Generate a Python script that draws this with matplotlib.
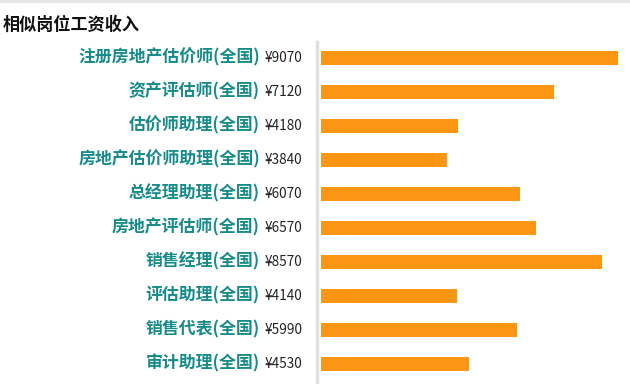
import matplotlib.pyplot as plt
from matplotlib.transforms import blended_transform_factory
from matplotlib.patches import Rectangle

plt.rcParams['font.family'] = ['Noto Sans CJK SC', 'DejaVu Sans']

jobs = ["注册房地产估价师(全国)", "资产评估师(全国)", "估价师助理(全国)",
        "房地产估价师助理(全国)", "总经理助理(全国)", "房地产评估师(全国)",
        "销售经理(全国)", "评估助理(全国)", "销售代表(全国)", "审计助理(全国)"]
salaries = [9070, 7120, 4180, 3840, 6070, 6570, 8570, 4140, 5990, 4530]

W, H = 630, 384
fig = plt.figure(figsize=(W / 100, H / 100), dpi=100)

# top gray band
fig.add_artist(Rectangle((0, 1 - 3 / H), 1, 3 / H, transform=fig.transFigure,
                         color="#e6e6e6", lw=0))
fig.text(3 / W, 1 - 25 / H, "相似岗位工资收入", fontsize=12.3, fontweight="bold",
         color="#111111", va="center", ha="left")

# axes from x=317 to 630, y=40 to 384
ax = fig.add_axes([317 / W, 0, 313 / W, 344 / H])
px = 297 / 9070
ax.set_xlim(-4 / px, 309 / px)
ax.set_ylim(9.6, -0.52)

pos = list(range(len(jobs)))
ax.barh(pos, salaries, height=14 / 34, color="#FB9514", left=0)

for s in ["top", "right", "bottom"]:
    ax.spines[s].set_visible(False)
ax.spines["left"].set_color("#e0e0e0")
ax.spines["left"].set_linewidth(2.5)
ax.spines["left"].set_bounds(-0.45, 9.6)
ax.set_xticks([])
ax.set_yticks([])

tr = blended_transform_factory(fig.transFigure, ax.transData)
for i, (job, sal) in enumerate(zip(jobs, salaries)):
    ax.text(260 / W, i, job, transform=tr, ha="right", va="center",
            fontsize=12.2, fontweight="bold", color="#178a8a")
    ax.text(265 / W, i, "¥%d" % sal, transform=tr, ha="left", va="center",
            fontsize=9.8, fontweight="medium", color="#222222")

fig.savefig("out.png", dpi=100)
